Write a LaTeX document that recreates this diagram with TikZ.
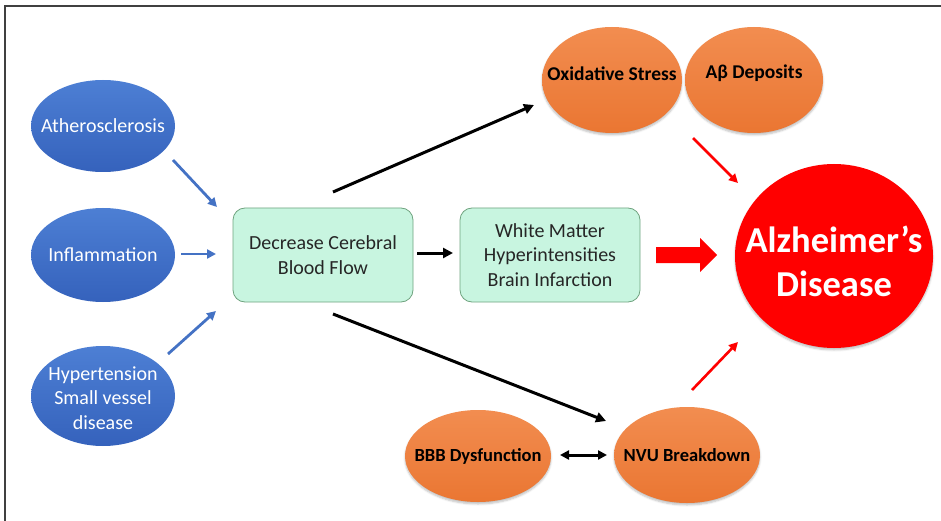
\documentclass[tikz,border=0pt]{standalone}
\usepackage{fontspec}
\setmainfont{Carlito}
\usetikzlibrary{shapes.geometric,arrows.meta,shadows.blur}
\definecolor{bluetop}{HTML}{4D7FD4}
\definecolor{bluebot}{HTML}{3562BC}
\definecolor{orgtop}{HTML}{F28D50}
\definecolor{orgbot}{HTML}{EA7632}
\definecolor{mint}{HTML}{C8F5E0}
\definecolor{mintdraw}{HTML}{6FA37F}
\definecolor{arrblue}{HTML}{4472C4}
\definecolor{adred}{HTML}{FF0000}
\tikzset{
  blueell/.style={ellipse, inner sep=0pt, top color=bluetop, bottom color=bluebot, draw=none},
  orgell/.style={ellipse, inner sep=0pt, top color=orgtop, bottom color=orgbot, draw=none,
    blur shadow={shadow xshift=0pt, shadow yshift=-2pt, shadow blur steps=5, shadow opacity=25}},
  bluetxt/.style={text=white, font=\fontsize{20}{24.5}\selectfont, align=center, inner sep=0pt},
  orgtxt/.style={text=black, font=\bfseries\fontsize{18.5}{22}\selectfont, align=center, inner sep=0pt},
  greenbox/.style={rectangle, rounded corners=12pt, fill=mint, draw=mintdraw, line width=0.8pt,
    minimum width=180pt, minimum height=94pt, inner sep=0pt, align=center,
    font=\fontsize{20}{24.5}\selectfont, text=black!85},
  bluearr/.style={draw=arrblue, line width=2.8pt, -{Triangle[length=9pt,width=9pt]}},
  blackarr/.style={draw=black, line width=3pt, -{Triangle[length=10pt,width=10pt]}},
  blackdbl/.style={draw=black, line width=3pt, {Triangle[length=9pt,width=9pt]}-{Triangle[length=9pt,width=9pt]}},
  redarr/.style={draw=adred, line width=2.6pt, -{Triangle[length=9pt,width=9pt]}},
}
\begin{document}
\begin{tikzpicture}[x=1pt,y=-1pt]
\useasboundingbox (0,0) rectangle (941,521);
% frame
\draw[line width=1.5pt, draw=black!75] (5,521) -- (5,6) -- (941,6);

% left blue ellipses
\node[blueell, minimum width=144pt, minimum height=92pt] (ath) at (103,126) {};
\node[bluetxt] (athT) at (ath) {Atherosclerosis};
\node[blueell, minimum width=144pt, minimum height=94pt] (inf) at (103,255) {};
\node[bluetxt] (infT) at (inf) {Inflammation};
\node[blueell, minimum width=144pt, minimum height=100pt] (hyp) at (103,396) {};
\node[bluetxt] (hypT) at ([yshift=-2pt]hyp) {Hypertension\\Small vessel\\disease};

% green boxes
\node[greenbox] (dec) at (323,255) {Decrease Cerebral\\Blood Flow};
\node[greenbox] (wm) at (550,255) {White Matter\\Hyperintensities\\Brain Infarction};

% orange ellipses
\node[orgell, minimum width=140pt, minimum height=106pt] (ox) at (612,80) {};
\node[orgtxt, font=\bfseries\fontsize{19.5}{22}\selectfont] (oxT) at ([yshift=6.5pt]ox) {Oxidative Stress};
\node[orgell, minimum width=138pt, minimum height=106pt] (ab) at (754,80) {};
\node[orgtxt, font=\bfseries\fontsize{19.5}{22}\selectfont] (abT) at ([yshift=6.5pt]ab) {Aβ Deposits};
\node[orgell, minimum width=146pt, minimum height=92pt] (bbb) at (478,456) {};
\node[orgtxt] (bbbT) at (bbb) {BBB Dysfunction};
\node[orgell, minimum width=146pt, minimum height=96pt] (nvu) at (687,455) {};
\node[orgtxt] (nvuT) at (nvu) {NVU Breakdown};

% Alzheimer's disease
\node[ellipse, inner sep=0pt, fill=adred, minimum width=198pt, minimum height=184pt,
  blur shadow={shadow xshift=0pt, shadow yshift=-2pt, shadow blur steps=5, shadow opacity=25}] (ad) at (834,256) {};
\node[text=white, font=\bfseries\fontsize{36.5}{44}\selectfont, align=center, inner sep=0pt] (adT) at ([yshift=-5pt]ad) {Alzheimer’s\\Disease};

% block arrow
\fill[adred] (656,247) -- (700,247) -- (700,238) -- (717,255) -- (700,272) -- (700,263) -- (656,263) -- cycle;

% connector end points
\coordinate (b1s) at (173,160); \coordinate (b1e) at (217,207);
\coordinate (b2s) at (181,254); \coordinate (b2e) at (216,254);
\coordinate (b3s) at (168,354); \coordinate (b3e) at (216,311);
\coordinate (k1s) at (417,253); \coordinate (k1e) at (453,253);
\coordinate (k2s) at (333,192); \coordinate (k2e) at (534,105);
\coordinate (k3s) at (333,314); \coordinate (k3e) at (606,421);
\coordinate (d1s) at (560,455); \coordinate (d1e) at (607,455);
\coordinate (r1s) at (693,138); \coordinate (r1e) at (738,183);
\coordinate (r2s) at (692,390); \coordinate (r2e) at (738,342);

\draw[bluearr] (b1s) -- (b1e);
\draw[bluearr] (b2s) -- (b2e);
\draw[bluearr] (b3s) -- (b3e);
\draw[blackarr] (k1s) -- (k1e);
\draw[blackarr] (k2s) -- (k2e);
\draw[blackarr] (k3s) -- (k3e);
\draw[blackdbl] (d1s) -- (d1e);
\draw[redarr] (r1s) -- (r1e);
\draw[redarr] (r2s) -- (r2e);
\end{tikzpicture}
\end{document}
